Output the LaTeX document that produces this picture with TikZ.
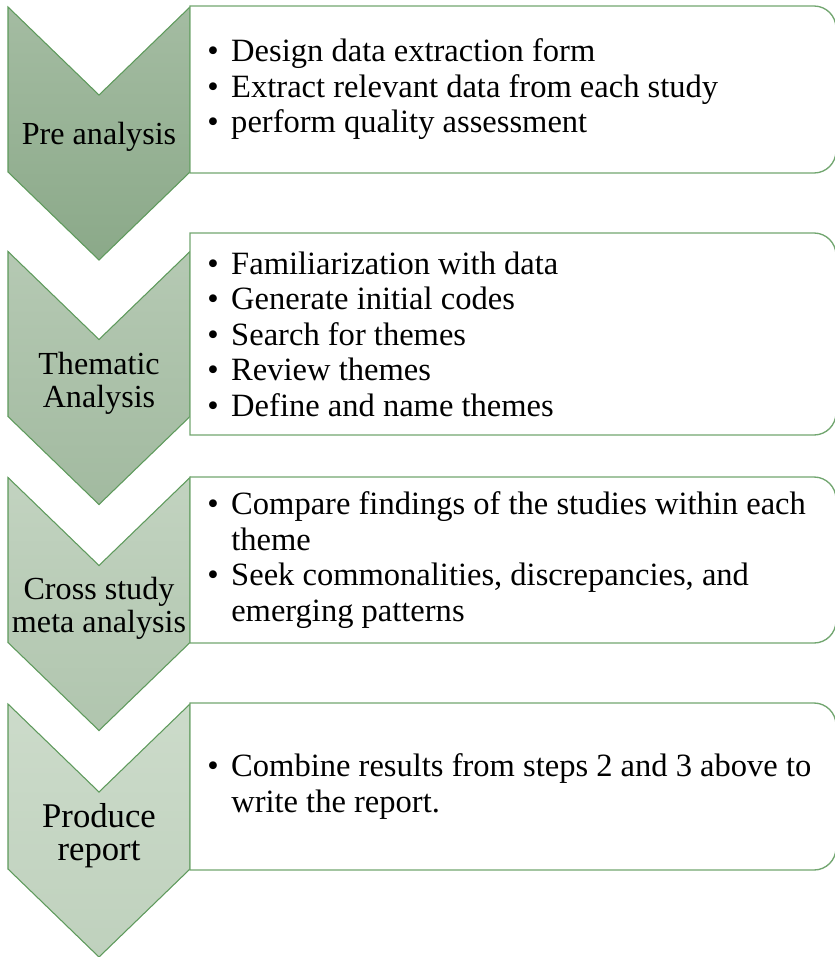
\documentclass[tikz,border=0pt]{standalone}
\usepackage{fontspec}
\setmainfont{Liberation Serif}
\usetikzlibrary{positioning}
\definecolor{chevAt}{HTML}{A4BCA2}
\definecolor{chevAb}{HTML}{8BA989}
\definecolor{chevBt}{HTML}{B5C9B3}
\definecolor{chevBb}{HTML}{A2BAA0}
\definecolor{chevCt}{HTML}{C2D3C0}
\definecolor{chevCb}{HTML}{B0C5AE}
\definecolor{chevDt}{HTML}{CCDBCA}
\definecolor{chevDb}{HTML}{BFD1BD}
\definecolor{chevline}{HTML}{5E9A5C}
\definecolor{boxline}{HTML}{72A670}
\newcommand{\bitem}{\makebox[18pt][l]{\textbullet}}
\newcommand{\bcont}{\hspace*{18pt}}
\tikzset{
  % gallone della fase
  chevron/.style={draw=chevline, line width=0.8pt},
  % riquadro con l'elenco
  listbox/.style={draw=boxline, line width=1pt, fill=white},
  % testi
  phaselbl/.style={font=\fontsize{24.1}{24.8}\selectfont, align=center, inner sep=0pt},
  bullets/.style={font=\fontsize{24.4}{26.6}\selectfont, align=left, inner sep=0pt, anchor=west},
}
\begin{document}
\begin{tikzpicture}[x=0.75pt, y=-0.75pt]
  \useasboundingbox (0,0) rectangle (835,957);
  \clip (0,0) rectangle (835,957);
  % galloni e riquadri
  \foreach \t/\b/\ctop/\cbot in {6/173/chevAt/chevAb, 233/435/chevBt/chevBb, 477/643/chevCt/chevCb, 703/870/chevDt/chevDb} {
    \pgfmathsetmacro\c{(\t+\b)/2}
    \draw[chevron, top color=\ctop, bottom color=\cbot] (8,\c-82.5) -- (99,\c+5.5) -- (190,\c-82.5) -- (190,\c+82.5) -- (99,\c+170.5) -- (8,\c+82.5) -- cycle;
    \draw[listbox] (190,\t) -- (814,\t) arc[start angle=-90, end angle=0, radius=22] -- (836,\b-22) arc[start angle=0, end angle=90, radius=22] -- (190,\b) -- cycle;
  }
  % nomi delle fasi
  \node[phaselbl] (pre) at (99,137) {Pre analysis};
  \node[phaselbl] (them) at (99,383) {Thematic\\Analysis};
  \node[phaselbl] (cross) at (99,608) {Cross study\\meta analysis};
  \node[phaselbl, font=\fontsize{26}{24.8}\selectfont] (prod) at (99,836) {Produce\\report};
  % attivita
  \node[bullets] (preitems) at (207,89.5) {\bitem Design data extraction form\\\bitem Extract relevant data from each study\\\bitem perform quality assessment};
  \node[bullets] (themitems) at (207,334) {\bitem Familiarization with data\\\bitem Generate initial codes\\\bitem Search for themes\\\bitem Review themes\\\bitem Define and name themes};
  \node[bullets] (crossitems) at (207,560) {\bitem Compare findings of the studies within each\\\bcont theme\\\bitem Seek commonalities, discrepancies, and\\\bcont emerging patterns};
  \node[bullets] (proditems) at (207,786.5) {\bitem Combine results from steps 2 and 3 above to\\\bcont write the report.};
\end{tikzpicture}
\end{document}
